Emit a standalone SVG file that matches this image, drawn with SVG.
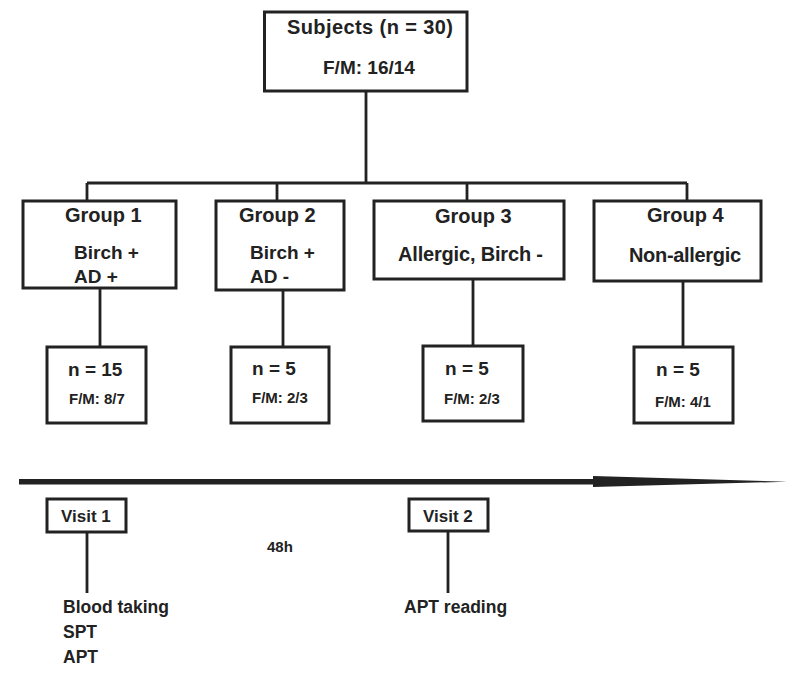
<svg xmlns="http://www.w3.org/2000/svg" width="800" height="674" viewBox="0 0 800 674">
<style>
.box{fill:#fff;stroke:#222;stroke-width:3}
.ln{fill:none;stroke:#222;stroke-width:2.8}
text{font-family:"Liberation Sans",Arial,sans-serif;font-weight:bold;fill:#222}
.t20{font-size:20px}
.t19{font-size:19px}
.t15{font-size:15px}
.t17{font-size:17.5px}
</style>
<rect width="800" height="674" fill="#fff"/>
<g id="connectors">
<path class="ln" d="M366 91V183M87 183H687M87 183V201M277 183V201M467 183V201M687 183V201"/>
<path class="ln" d="M100 288V347M283 290V347M473 279V346M683 281V347"/>
<path class="ln" d="M87 532V593M448 531V593"/>
<rect x="19" y="479" width="576" height="5.5" fill="#222"/>
<polygon points="593,476 787,481.7 593,487" fill="#222"/>
</g>
<g id="subjects">
<rect class="box" x="264.5" y="12" width="202.5" height="79"/>
<text class="t20" x="287" y="34" textLength="166">Subjects (n = 30)</text>
<text class="t19" x="323" y="74">F/M: 16/14</text>
</g>
<g id="group1">
<rect class="box" x="23" y="201" width="153" height="87"/>
<text class="t20" x="65" y="222">Group 1</text>
<text class="t19" x="74" y="259">Birch +</text>
<text class="t19" x="74" y="283">AD +</text>
</g>
<g id="group2">
<rect class="box" x="216" y="201" width="128" height="89"/>
<text class="t20" x="239" y="222">Group 2</text>
<text class="t19" x="250" y="259">Birch +</text>
<text class="t19" x="250" y="283">AD -</text>
</g>
<g id="group3">
<rect class="box" x="374" y="201" width="190" height="78"/>
<text class="t20" x="435" y="223">Group 3</text>
<text class="t20" x="398" y="261" textLength="145">Allergic, Birch -</text>
</g>
<g id="group4">
<rect class="box" x="594" y="201" width="167" height="80"/>
<text class="t20" x="647" y="222">Group 4</text>
<text class="t20" x="629" y="262" textLength="112">Non-allergic</text>
</g>
<g id="n1">
<rect class="box" x="47" y="347" width="99" height="76"/>
<text class="t19" x="68" y="376">n = 15</text>
<text class="t15" x="69" y="404">F/M: 8/7</text>
</g>
<g id="n2">
<rect class="box" x="231" y="347" width="98" height="76"/>
<text class="t19" x="252" y="375">n = 5</text>
<text class="t15" x="252" y="403">F/M: 2/3</text>
</g>
<g id="n3">
<rect class="box" x="423" y="346" width="100" height="75"/>
<text class="t19" x="445" y="375">n = 5</text>
<text class="t15" x="444" y="404">F/M: 2/3</text>
</g>
<g id="n4">
<rect class="box" x="634" y="347" width="99" height="76"/>
<text class="t19" x="656" y="376">n = 5</text>
<text class="t15" x="655" y="407">F/M: 4/1</text>
</g>
<g id="visit1">
<rect class="box" x="47" y="499" width="79" height="33"/>
<text x="61" y="522" style="font-size:17px">Visit 1</text>
</g>
<g id="visit2">
<rect class="box" x="409" y="499" width="79" height="32"/>
<text x="423" y="522" style="font-size:17px">Visit 2</text>
</g>
<g id="labels">
<text class="t15" x="267" y="552">48h</text>
<text class="t17" x="63" y="613">Blood taking</text>
<text class="t17" x="63" y="638">SPT</text>
<text class="t17" x="63" y="663">APT</text>
<text class="t17" x="404" y="613">APT reading</text>
</g>
</svg>
